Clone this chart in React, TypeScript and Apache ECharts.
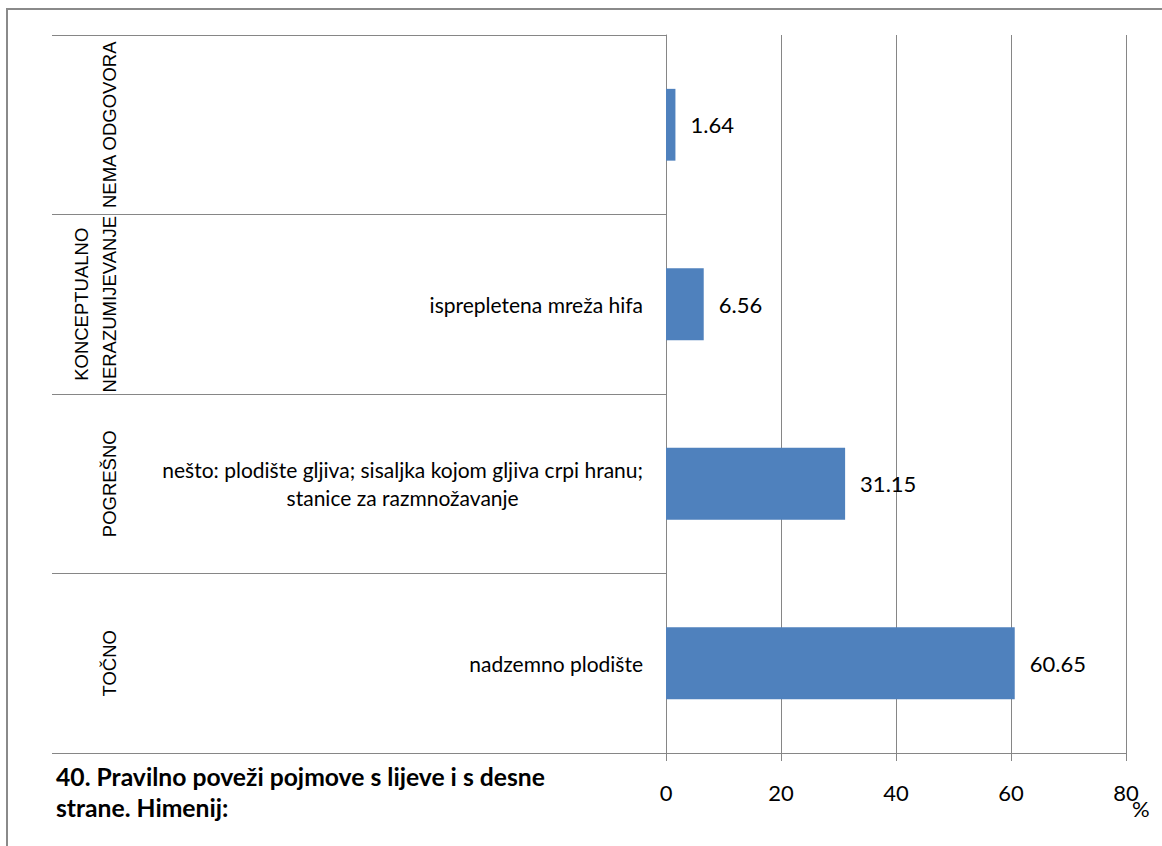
import React, { useEffect, useRef } from "react";
import * as echarts from "echarts";

const categories = [
  "nadzemno plodište",
  "nešto: plodište gljiva; sisaljka kojom gljiva crpi hranu;\nstanice za razmnožavanje",
  "isprepletena mreža hifa",
  "",
];
const groups = ["TOČNO", "POGREŠNO", "KONCEPTUALNO\nNERAZUMIJEVANJE", "NEMA ODGOVORA"];
const values = [60.65, 31.15, 6.56, 1.64];
const xTicks = [0, 20, 40, 60, 80];
const titleText = "40. Pravilno poveži pojmove s lijeve i s desne\nstrane. Himenij:";
const unitName = "%";

const FONT = "Lato";
const GRAY = "#868686";

export default function App() {
  const ref = useRef<HTMLDivElement>(null);
  useEffect(() => {
    const chart = echarts.init(ref.current!, null, { renderer: "svg" });
    chart.setOption({
      animation: false,
      backgroundColor: "#ffffff",
      title: {
        text: titleText,
        left: 51,
        top: 756,
        textStyle: { fontFamily: FONT, fontSize: 24.7, fontWeight: "bold", color: "#000", lineHeight: 31 },
      },
      graphic: [
        {
          type: "rect",
          shape: { x: 7, y: 9, width: 1300, height: 1000 },
          style: { fill: "none", stroke: "#8a8a8a", lineWidth: 2 },
          silent: true,
        },
      ],
      grid: { left: 666, right: 36, top: 35, bottom: 93, containLabel: false },
      xAxis: {
        type: "value",
        min: xTicks[0],
        max: xTicks[xTicks.length - 1],
        interval: 20,
        name: unitName,
        nameLocation: "end",
        nameGap: 6,
        nameMoveOverlap: false,
        nameTextStyle: { fontFamily: FONT, fontSize: 22, color: "#000", verticalAlign: "top", padding: [44, 0, 0, 0] },
        axisLine: { show: true, lineStyle: { color: GRAY, width: 1 } },
        axisTick: { show: true, length: 8, lineStyle: { color: GRAY } },
        axisLabel: { fontFamily: FONT, fontSize: 22, color: "#000", margin: 28 },
        splitLine: { show: true, lineStyle: { color: GRAY, width: 1 } },
      },
      yAxis: [
        {
          type: "category",
          data: categories,
          axisLine: { show: true, lineStyle: { color: GRAY, width: 1 } },
          axisTick: { show: true, length: 614, lineStyle: { color: GRAY, width: 1 } },
          axisLabel: {
            interval: 0,
            margin: 23,
            color: "#000",
            fontFamily: FONT,
            fontSize: 21,
            lineHeight: 28,
            formatter: (v: string) =>
              v
                .split("\n")
                .map((l) => (l ? `{c|${l}}` : ""))
                .join("\n"),
            rich: { c: { align: "center", fontFamily: FONT, fontSize: 21, lineHeight: 28, color: "#000" } },
          },
        },
        {
          type: "category",
          data: groups,
          position: "left",
          offset: 543,
          axisLine: { show: false },
          axisTick: { show: false },
          axisLabel: {
            interval: 0,
            rotate: 90,
            margin: 0,
            align: "center",
            verticalAlign: "bottom",
            color: "#000",
            fontFamily: "Liberation Sans",
            fontSize: 18.5,
            lineHeight: 28,
          },
        },
      ],
      series: [
        {
          type: "bar",
          yAxisIndex: 0,
          data: values,
          barWidth: "40%",
          itemStyle: { color: "#4F81BD" },
          label: {
            show: true,
            position: "right",
            distance: 15,
            color: "#000",
            fontFamily: FONT,
            fontSize: 22,
          },
        },
      ],
    });
    return () => chart.dispose();
  }, []);
  return (
    <div
      ref={ref}
      style={{ position: "absolute", left: 0, top: 0, width: 1162, height: 846 }}
    />
  );
}
